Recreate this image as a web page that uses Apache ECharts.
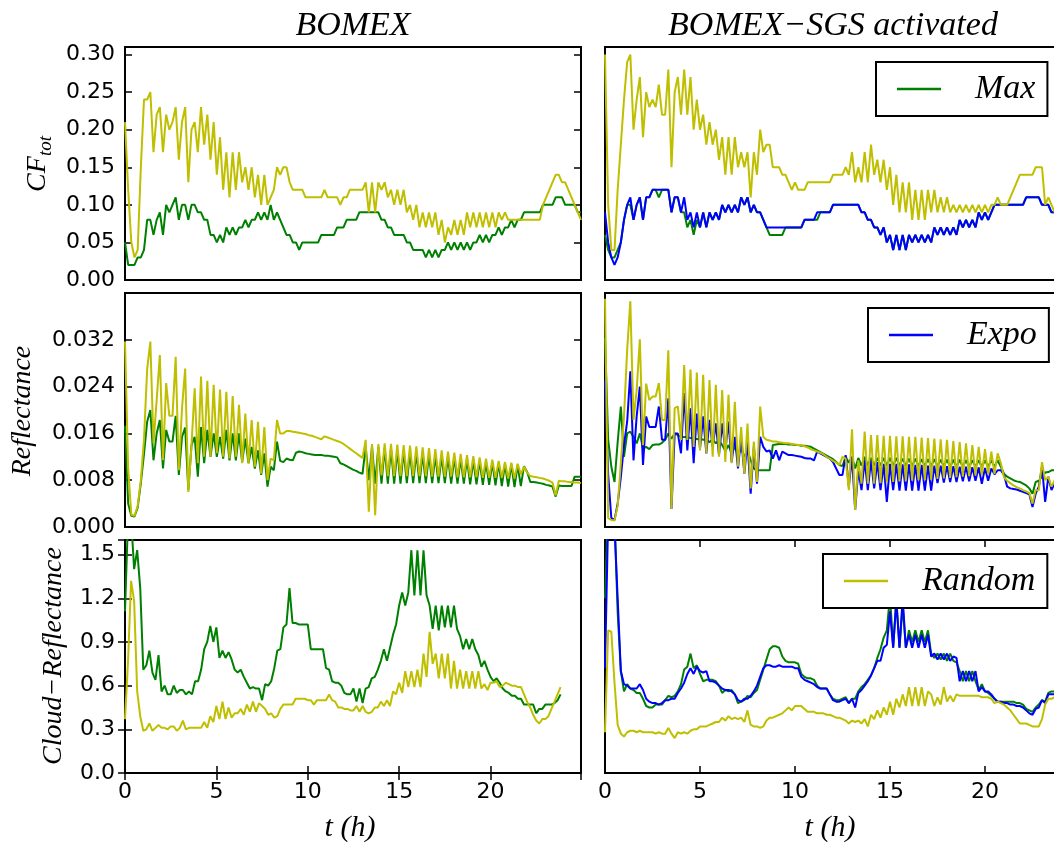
<!DOCTYPE html>
<html>
<head>
<meta charset="utf-8">
<title>BOMEX cloud fraction / reflectance</title>
<script src="https://cdn.jsdelivr.net/npm/echarts@6.0.0/dist/echarts.min.js"></script>
<style>
    html, body { margin: 0; padding: 0; background: #fff; overflow: hidden; }
    /* canvas a bit wider than the window: the right column runs past the edge, as in the original figure */
    #chart { width: 1070px; height: 848px; }
</style>
</head>
<body>
<div id="chart"></div>
<script>
// model output every 10 min
const STEP_H = 1 / 6

// ---- total cloud fraction ----
const cfMaxBomex = [
    0.05,0.02,0.02,0.02,0.03,0.03,0.04,0.08,0.08,0.06,
    0.08,0.09,0.06,0.10,0.09,0.10,0.11,0.08,0.10,0.10,
    0.08,0.10,0.10,0.09,0.09,0.08,0.08,0.06,0.06,0.05,
    0.06,0.05,0.07,0.06,0.07,0.06,0.07,0.07,0.08,0.07,
    0.08,0.08,0.09,0.08,0.09,0.08,0.10,0.08,0.09,0.08,
    0.07,0.06,0.06,0.05,0.05,0.04,0.05,0.05,0.05,0.05,
    0.05,0.05,0.06,0.06,0.06,0.06,0.06,0.07,0.07,0.07,
    0.08,0.08,0.08,0.08,0.09,0.09,0.09,0.09,0.09,0.09,
    0.09,0.08,0.08,0.07,0.07,0.06,0.06,0.06,0.06,0.05,
    0.05,0.04,0.04,0.04,0.04,0.03,0.04,0.03,0.04,0.03,
    0.04,0.04,0.05,0.04,0.05,0.04,0.05,0.04,0.05,0.04,
    0.05,0.05,0.06,0.05,0.06,0.05,0.06,0.06,0.07,0.06,
    0.07,0.07,0.08,0.07,0.08,0.08,0.09,0.09,0.09,0.09,
    0.09,0.09,0.10,0.10,0.10,0.10,0.11,0.11,0.11,0.10,
    0.10,0.10,0.10,0.09,0.09
]
const cfRandBomex = [
    0.21,0.12,0.05,0.03,0.04,0.15,0.24,0.24,0.25,0.17,
    0.22,0.23,0.17,0.22,0.20,0.21,0.23,0.16,0.21,0.23,
    0.13,0.20,0.21,0.17,0.23,0.18,0.22,0.16,0.21,0.14,
    0.19,0.12,0.17,0.11,0.17,0.12,0.17,0.13,0.15,0.12,
    0.15,0.11,0.14,0.10,0.14,0.10,0.11,0.12,0.15,0.14,
    0.15,0.15,0.13,0.12,0.12,0.12,0.12,0.11,0.11,0.11,
    0.11,0.11,0.11,0.12,0.11,0.11,0.11,0.11,0.10,0.11,
    0.11,0.12,0.12,0.12,0.12,0.12,0.13,0.09,0.13,0.09,
    0.13,0.12,0.13,0.11,0.12,0.10,0.12,0.10,0.12,0.09,
    0.10,0.08,0.10,0.07,0.09,0.07,0.09,0.07,0.09,0.06,
    0.08,0.05,0.07,0.06,0.08,0.06,0.08,0.06,0.09,0.07,
    0.09,0.07,0.09,0.07,0.09,0.07,0.09,0.07,0.09,0.08,
    0.09,0.08,0.08,0.08,0.08,0.08,0.08,0.08,0.08,0.08,
    0.08,0.08,0.10,0.11,0.12,0.13,0.14,0.14,0.13,0.13,
    0.12,0.11,0.10,0.09,0.08
]
const cfMaxSgs = [
    0.06,0.04,0.03,0.03,0.04,0.05,0.08,0.10,0.10,0.08,
    0.10,0.11,0.08,0.11,0.11,0.12,0.12,0.11,0.12,0.12,
    0.12,0.09,0.11,0.11,0.09,0.09,0.07,0.08,0.06,0.08,
    0.07,0.09,0.07,0.09,0.08,0.09,0.08,0.10,0.09,0.10,
    0.09,0.10,0.09,0.11,0.10,0.11,0.09,0.10,0.09,0.09,
    0.08,0.07,0.06,0.06,0.06,0.06,0.06,0.07,0.07,0.07,
    0.07,0.07,0.07,0.08,0.08,0.08,0.08,0.08,0.09,0.09,
    0.09,0.09,0.10,0.10,0.10,0.10,0.10,0.10,0.10,0.10,
    0.10,0.09,0.09,0.08,0.08,0.07,0.07,0.06,0.07,0.05,
    0.06,0.04,0.06,0.04,0.06,0.04,0.06,0.05,0.06,0.05,
    0.06,0.05,0.06,0.05,0.07,0.06,0.07,0.06,0.07,0.06,
    0.07,0.06,0.08,0.07,0.08,0.07,0.08,0.07,0.09,0.08,
    0.09,0.08,0.09,0.10,0.10,0.10,0.10,0.10,0.10,0.10,
    0.10,0.10,0.10,0.11,0.11,0.11,0.11,0.11,0.10,0.10,
    0.10,0.09,0.09,0.09,0.09
]
const cfExpoSgs = [
    0.09,0.05,0.03,0.02,0.03,0.05,0.08,0.10,0.11,0.08,
    0.10,0.11,0.08,0.11,0.11,0.12,0.12,0.12,0.12,0.12,
    0.12,0.09,0.11,0.11,0.09,0.11,0.08,0.09,0.07,0.09,
    0.07,0.09,0.07,0.09,0.08,0.09,0.08,0.10,0.09,0.10,
    0.09,0.10,0.09,0.11,0.10,0.11,0.09,0.10,0.09,0.09,
    0.08,0.07,0.07,0.07,0.07,0.07,0.07,0.07,0.07,0.07,
    0.07,0.07,0.07,0.08,0.08,0.08,0.08,0.09,0.09,0.09,
    0.09,0.09,0.10,0.10,0.10,0.10,0.10,0.10,0.10,0.10,
    0.10,0.09,0.09,0.08,0.08,0.07,0.07,0.06,0.07,0.05,
    0.06,0.04,0.06,0.04,0.06,0.04,0.06,0.05,0.06,0.05,
    0.06,0.05,0.06,0.05,0.07,0.06,0.07,0.06,0.07,0.06,
    0.07,0.06,0.08,0.07,0.08,0.07,0.08,0.07,0.09,0.08,
    0.09,0.08,0.09,0.10,0.10,0.10,0.10,0.10,0.10,0.10,
    0.10,0.10,0.10,0.11,0.11,0.11,0.11,0.11,0.10,0.10,
    0.10,0.09,0.09,0.09,0.09
]
const cfRandSgs = [
    0.30,0.10,0.04,0.04,0.12,0.18,0.24,0.29,0.30,0.20,
    0.24,0.27,0.19,0.25,0.23,0.24,0.23,0.26,0.22,0.22,
    0.28,0.15,0.25,0.27,0.22,0.28,0.22,0.27,0.20,0.24,
    0.20,0.22,0.18,0.21,0.18,0.20,0.16,0.19,0.14,0.19,
    0.14,0.19,0.15,0.17,0.15,0.17,0.11,0.17,0.14,0.20,
    0.17,0.18,0.18,0.15,0.15,0.15,0.14,0.14,0.13,0.12,
    0.13,0.12,0.12,0.12,0.13,0.13,0.13,0.13,0.13,0.13,
    0.13,0.13,0.14,0.14,0.14,0.14,0.15,0.14,0.17,0.13,
    0.15,0.13,0.17,0.13,0.18,0.14,0.16,0.13,0.16,0.12,
    0.15,0.10,0.14,0.09,0.13,0.09,0.13,0.08,0.12,0.08,
    0.12,0.08,0.12,0.09,0.12,0.09,0.11,0.09,0.11,0.09,
    0.10,0.09,0.10,0.09,0.10,0.09,0.10,0.09,0.10,0.09,
    0.10,0.09,0.10,0.10,0.11,0.10,0.10,0.10,0.11,0.12,
    0.13,0.14,0.14,0.14,0.14,0.14,0.15,0.15,0.15,0.10,
    0.11,0.10,0.09,0.09,0.09
]

// ---- reflectance ----
const refMaxBomex = [
    0.0173,0.0040,0.0019,0.0018,0.0033,0.0075,0.0125,0.0180,0.0200,0.0114,
    0.0160,0.0183,0.0100,0.0166,0.0146,0.0146,0.0190,0.0089,0.0154,0.0170,
    0.0063,0.0140,0.0154,0.0086,0.0171,0.0109,0.0166,0.0120,0.0160,0.0120,
    0.0154,0.0117,0.0166,0.0114,0.0160,0.0114,0.0160,0.0111,0.0151,0.0109,
    0.0137,0.0100,0.0131,0.0089,0.0126,0.0069,0.0103,0.0097,0.0146,0.0113,
    0.0111,0.0117,0.0115,0.0114,0.0127,0.0129,0.0128,0.0126,0.0125,0.0124,
    0.0123,0.0123,0.0123,0.0122,0.0122,0.0121,0.0120,0.0119,0.0109,0.0107,
    0.0104,0.0101,0.0098,0.0096,0.0093,0.0091,0.0137,0.0080,0.0138,0.0074,
    0.0137,0.0074,0.0135,0.0074,0.0133,0.0074,0.0131,0.0074,0.0130,0.0075,
    0.0128,0.0075,0.0127,0.0075,0.0125,0.0075,0.0124,0.0075,0.0122,0.0075,
    0.0121,0.0075,0.0120,0.0074,0.0119,0.0074,0.0117,0.0074,0.0116,0.0073,
    0.0114,0.0073,0.0113,0.0072,0.0111,0.0072,0.0110,0.0071,0.0109,0.0070,
    0.0108,0.0069,0.0107,0.0068,0.0106,0.0070,0.0104,0.0094,0.0077,0.0077,
    0.0076,0.0075,0.0074,0.0072,0.0071,0.0069,0.0052,0.0071,0.0070,0.0070,
    0.0070,0.0070,0.0086,0.0086,0.0086
]
const refRandBomex = [
    0.0317,0.0100,0.0021,0.0019,0.0036,0.0080,0.0150,0.0270,0.0317,0.0143,
    0.0217,0.0294,0.0114,0.0246,0.0190,0.0190,0.0291,0.0097,0.0203,0.0271,
    0.0060,0.0140,0.0237,0.0109,0.0257,0.0120,0.0250,0.0120,0.0243,0.0126,
    0.0235,0.0120,0.0231,0.0117,0.0224,0.0120,0.0209,0.0109,0.0194,0.0109,
    0.0183,0.0103,0.0180,0.0091,0.0171,0.0080,0.0117,0.0114,0.0183,0.0160,
    0.0160,0.0164,0.0164,0.0163,0.0162,0.0161,0.0160,0.0159,0.0157,0.0156,
    0.0154,0.0152,0.0150,0.0155,0.0153,0.0151,0.0149,0.0147,0.0145,0.0142,
    0.0138,0.0134,0.0130,0.0126,0.0122,0.0118,0.0149,0.0026,0.0142,0.0020,
    0.0142,0.0088,0.0143,0.0087,0.0142,0.0087,0.0141,0.0087,0.0140,0.0087,
    0.0139,0.0087,0.0138,0.0087,0.0136,0.0087,0.0135,0.0086,0.0133,0.0086,
    0.0131,0.0086,0.0129,0.0086,0.0127,0.0085,0.0125,0.0085,0.0123,0.0085,
    0.0121,0.0085,0.0119,0.0084,0.0117,0.0084,0.0115,0.0084,0.0113,0.0084,
    0.0111,0.0083,0.0110,0.0083,0.0108,0.0090,0.0103,0.0093,0.0087,0.0086,
    0.0085,0.0084,0.0083,0.0081,0.0079,0.0076,0.0054,0.0079,0.0078,0.0078,
    0.0077,0.0077,0.0076,0.0076,0.0075
]
const refMaxSgs = [
    0.0323,0.0150,0.0103,0.0077,0.0145,0.0206,0.0120,0.0160,0.0163,0.0154,
    0.0143,0.0160,0.0134,0.0137,0.0133,0.0140,0.0141,0.0141,0.0144,0.0149,
    0.0160,0.0151,0.0160,0.0157,0.0154,0.0154,0.0154,0.0152,0.0153,0.0150,
    0.0152,0.0149,0.0150,0.0145,0.0150,0.0143,0.0148,0.0140,0.0130,0.0140,
    0.0126,0.0137,0.0123,0.0134,0.0120,0.0131,0.0114,0.0100,0.0097,0.0097,
    0.0097,0.0097,0.0097,0.0140,0.0141,0.0142,0.0142,0.0142,0.0141,0.0141,
    0.0140,0.0140,0.0139,0.0139,0.0138,0.0137,0.0134,0.0131,0.0128,0.0125,
    0.0122,0.0119,0.0116,0.0111,0.0106,0.0104,0.0120,0.0110,0.0120,0.0100,
    0.0118,0.0105,0.0120,0.0105,0.0118,0.0105,0.0118,0.0105,0.0118,0.0105,
    0.0118,0.0105,0.0118,0.0105,0.0117,0.0105,0.0117,0.0104,0.0117,0.0104,
    0.0116,0.0104,0.0116,0.0104,0.0116,0.0104,0.0115,0.0104,0.0115,0.0103,
    0.0115,0.0103,0.0115,0.0103,0.0114,0.0103,0.0114,0.0103,0.0114,0.0103,
    0.0114,0.0103,0.0114,0.0103,0.0114,0.0103,0.0091,0.0086,0.0083,0.0080,
    0.0078,0.0077,0.0074,0.0071,0.0066,0.0057,0.0077,0.0079,0.0086,0.0093,
    0.0094,0.0097,0.0097,0.0098,0.0098
]
const refExpoSgs = [
    0.0251,0.0090,0.0015,0.0012,0.0040,0.0085,0.0140,0.0180,0.0266,0.0114,
    0.0189,0.0240,0.0106,0.0189,0.0171,0.0171,0.0171,0.0206,0.0149,0.0149,
    0.0220,0.0031,0.0160,0.0160,0.0126,0.0229,0.0131,0.0203,0.0109,0.0194,
    0.0134,0.0189,0.0126,0.0183,0.0137,0.0177,0.0123,0.0177,0.0131,0.0180,
    0.0111,0.0154,0.0100,0.0154,0.0091,0.0146,0.0057,0.0137,0.0074,0.0154,
    0.0137,0.0129,0.0131,0.0117,0.0131,0.0114,0.0129,0.0126,0.0123,0.0123,
    0.0122,0.0121,0.0120,0.0118,0.0117,0.0117,0.0114,0.0129,0.0126,0.0123,
    0.0120,0.0117,0.0111,0.0100,0.0089,0.0089,0.0123,0.0069,0.0120,0.0029,
    0.0097,0.0063,0.0114,0.0063,0.0114,0.0066,0.0111,0.0063,0.0108,0.0043,
    0.0108,0.0063,0.0108,0.0062,0.0107,0.0062,0.0107,0.0062,0.0106,0.0062,
    0.0106,0.0062,0.0105,0.0062,0.0105,0.0075,0.0105,0.0076,0.0104,0.0077,
    0.0104,0.0077,0.0103,0.0078,0.0103,0.0078,0.0102,0.0079,0.0102,0.0074,
    0.0101,0.0079,0.0100,0.0090,0.0097,0.0097,0.0089,0.0069,0.0066,0.0065,
    0.0064,0.0062,0.0060,0.0058,0.0056,0.0034,0.0057,0.0069,0.0103,0.0043,
    0.0086,0.0063,0.0075,0.0078,0.0078
]
const refRandSgs = [
    0.0390,0.0015,0.0012,0.0011,0.0036,0.0109,0.0189,0.0303,0.0386,0.0183,
    0.0234,0.0321,0.0140,0.0245,0.0217,0.0223,0.0223,0.0246,0.0183,0.0183,
    0.0302,0.0031,0.0203,0.0206,0.0149,0.0277,0.0149,0.0269,0.0137,0.0264,
    0.0131,0.0260,0.0126,0.0251,0.0120,0.0243,0.0120,0.0234,0.0111,0.0226,
    0.0109,0.0214,0.0103,0.0171,0.0091,0.0177,0.0066,0.0146,0.0077,0.0206,
    0.0154,0.0149,0.0148,0.0146,0.0146,0.0145,0.0144,0.0143,0.0143,0.0142,
    0.0141,0.0140,0.0140,0.0138,0.0136,0.0133,0.0131,0.0129,0.0127,0.0124,
    0.0120,0.0117,0.0113,0.0110,0.0106,0.0120,0.0117,0.0063,0.0167,0.0029,
    0.0114,0.0074,0.0163,0.0074,0.0157,0.0074,0.0157,0.0075,0.0156,0.0076,
    0.0156,0.0077,0.0155,0.0078,0.0155,0.0078,0.0154,0.0079,0.0154,0.0080,
    0.0153,0.0080,0.0152,0.0081,0.0151,0.0082,0.0150,0.0083,0.0149,0.0084,
    0.0147,0.0085,0.0145,0.0086,0.0143,0.0087,0.0140,0.0088,0.0137,0.0089,
    0.0133,0.0090,0.0129,0.0091,0.0126,0.0109,0.0085,0.0079,0.0075,0.0071,
    0.0068,0.0066,0.0063,0.0061,0.0058,0.0040,0.0063,0.0063,0.0111,0.0080,
    0.0086,0.0069,0.0080,0.0082,0.0082
]

// ---- cloud reflectance ----
const crMaxBomex = [
    1.11,1.75,1.75,1.40,1.53,1.27,0.71,0.74,0.84,0.69,
    0.64,0.81,0.56,0.60,0.54,0.54,0.60,0.55,0.57,0.57,
    0.54,0.56,0.54,0.63,0.63,0.71,0.85,0.90,1.01,0.90,
    1.00,0.79,0.84,0.79,0.83,0.78,0.71,0.69,0.71,0.66,
    0.62,0.58,0.59,0.58,0.58,0.50,0.61,0.60,0.63,0.72,
    0.84,0.85,1.00,1.02,1.27,1.03,1.03,1.02,1.02,1.02,
    1.02,0.85,0.85,0.85,0.85,0.85,0.72,0.71,0.63,0.62,
    0.62,0.60,0.55,0.54,0.54,0.58,0.49,0.58,0.48,0.58,
    0.59,0.65,0.66,0.71,0.77,0.85,0.77,0.86,0.95,1.02,
    1.15,1.24,1.15,1.24,1.53,1.22,1.53,1.22,1.53,1.22,
    1.15,0.99,1.15,0.98,1.15,1.00,1.15,1.00,1.15,0.99,
    0.94,0.85,0.92,0.85,0.92,0.85,0.81,0.73,0.77,0.71,
    0.66,0.63,0.65,0.62,0.58,0.56,0.55,0.53,0.53,0.51,
    0.51,0.47,0.47,0.47,0.47,0.41,0.44,0.44,0.47,0.47,
    0.47,0.48,0.50,0.54
]
const crRandBomex = [
    0.37,0.77,1.32,1.18,0.56,0.39,0.29,0.30,0.34,0.29,
    0.31,0.33,0.31,0.31,0.30,0.32,0.32,0.29,0.31,0.36,
    0.30,0.31,0.31,0.31,0.31,0.31,0.35,0.31,0.39,0.35,
    0.46,0.37,0.49,0.37,0.45,0.38,0.41,0.41,0.44,0.40,
    0.47,0.42,0.49,0.42,0.48,0.46,0.44,0.40,0.41,0.38,
    0.39,0.44,0.47,0.47,0.47,0.47,0.51,0.51,0.51,0.51,
    0.50,0.50,0.47,0.50,0.50,0.50,0.50,0.54,0.50,0.49,
    0.45,0.45,0.44,0.44,0.43,0.43,0.46,0.42,0.46,0.42,
    0.41,0.42,0.45,0.45,0.49,0.46,0.50,0.46,0.56,0.54,
    0.62,0.55,0.70,0.59,0.70,0.59,0.71,0.59,0.82,0.66,
    0.97,0.75,0.82,0.65,0.82,0.65,0.82,0.58,0.77,0.58,
    0.71,0.58,0.70,0.58,0.70,0.58,0.70,0.58,0.61,0.57,
    0.62,0.62,0.63,0.59,0.60,0.62,0.61,0.60,0.60,0.59,
    0.59,0.54,0.49,0.45,0.40,0.36,0.34,0.37,0.37,0.39,
    0.44,0.49,0.54,0.59
]
const crMaxSgs = [
    1.20,1.85,1.90,1.75,1.10,0.70,0.56,0.61,0.58,0.57,
    0.55,0.55,0.51,0.46,0.45,0.45,0.47,0.47,0.47,0.50,
    0.53,0.52,0.53,0.56,0.61,0.71,0.73,0.82,0.72,0.74,
    0.68,0.63,0.64,0.64,0.64,0.63,0.60,0.55,0.57,0.56,
    0.57,0.54,0.48,0.49,0.50,0.53,0.52,0.55,0.57,0.64,
    0.71,0.78,0.85,0.87,0.87,0.86,0.80,0.77,0.76,0.76,
    0.76,0.75,0.68,0.66,0.65,0.65,0.64,0.60,0.58,0.58,
    0.58,0.54,0.51,0.50,0.50,0.51,0.52,0.48,0.51,0.51,
    0.56,0.59,0.61,0.64,0.67,0.72,0.79,0.85,0.93,0.98,
    1.22,0.86,1.20,0.86,1.15,0.86,0.98,0.90,0.98,0.90,
    0.98,0.90,0.98,0.82,0.79,0.82,0.78,0.82,0.77,0.82,
    0.77,0.76,0.70,0.63,0.70,0.63,0.70,0.63,0.57,0.61,
    0.56,0.55,0.53,0.51,0.49,0.49,0.49,0.49,0.49,0.49,
    0.48,0.48,0.47,0.44,0.43,0.42,0.45,0.47,0.50,0.49,
    0.55,0.56,0.56,0.56,0.56
]
const crExpoSgs = [
    0.72,1.75,1.90,1.70,1.20,0.70,0.61,0.60,0.58,0.58,
    0.58,0.61,0.57,0.51,0.49,0.48,0.48,0.47,0.48,0.50,
    0.50,0.51,0.51,0.55,0.58,0.62,0.68,0.72,0.68,0.73,
    0.70,0.69,0.70,0.63,0.63,0.62,0.60,0.58,0.57,0.57,
    0.56,0.54,0.50,0.49,0.51,0.51,0.53,0.56,0.60,0.66,
    0.72,0.74,0.74,0.73,0.73,0.74,0.73,0.73,0.73,0.73,
    0.72,0.72,0.66,0.64,0.63,0.62,0.61,0.59,0.58,0.58,
    0.58,0.54,0.50,0.49,0.49,0.50,0.51,0.48,0.51,0.45,
    0.55,0.57,0.60,0.63,0.67,0.72,0.77,0.77,0.86,0.88,
    1.11,0.86,1.18,0.86,1.20,0.86,0.95,0.86,0.95,0.86,
    0.95,0.86,0.95,0.80,0.82,0.78,0.82,0.78,0.82,0.77,
    0.80,0.79,0.63,0.70,0.63,0.70,0.63,0.70,0.56,0.59,
    0.56,0.56,0.54,0.51,0.49,0.49,0.48,0.48,0.47,0.47,
    0.46,0.46,0.45,0.43,0.41,0.40,0.44,0.45,0.50,0.48,
    0.54,0.54,0.54,0.54,0.54
]
const crRandSgs = [
    0.28,0.98,0.97,0.62,0.33,0.27,0.25,0.28,0.29,0.29,
    0.28,0.29,0.28,0.28,0.28,0.28,0.27,0.28,0.27,0.27,
    0.31,0.27,0.24,0.28,0.27,0.28,0.27,0.29,0.30,0.30,
    0.32,0.32,0.32,0.33,0.34,0.35,0.35,0.38,0.36,0.39,
    0.37,0.38,0.37,0.38,0.35,0.43,0.33,0.32,0.32,0.31,
    0.32,0.36,0.38,0.38,0.39,0.40,0.41,0.43,0.45,0.43,
    0.46,0.46,0.46,0.44,0.42,0.42,0.42,0.41,0.41,0.41,
    0.40,0.40,0.39,0.38,0.38,0.37,0.36,0.34,0.36,0.35,
    0.36,0.34,0.37,0.32,0.40,0.37,0.43,0.38,0.45,0.40,
    0.49,0.40,0.51,0.45,0.54,0.46,0.59,0.46,0.59,0.46,
    0.59,0.46,0.56,0.54,0.46,0.52,0.47,0.59,0.49,0.53,
    0.49,0.54,0.53,0.53,0.53,0.53,0.53,0.53,0.53,0.52,
    0.52,0.52,0.51,0.48,0.49,0.48,0.47,0.45,0.43,0.40,
    0.37,0.34,0.34,0.34,0.33,0.32,0.32,0.32,0.37,0.47,
    0.51,0.51,0.52,0.52,0.52
]

const COLORS = { Max: '#008000', Expo: '#0000ff', Random: '#bfbf00' }

// one entry per panel, same order as the grids below
const panels = [
    [['Max', cfMaxBomex], ['Random', cfRandBomex]],
    [['Max', cfMaxSgs], ['Expo', cfExpoSgs], ['Random', cfRandSgs]],
    [['Max', refMaxBomex], ['Random', refRandBomex]],
    [['Max', refMaxSgs], ['Expo', refExpoSgs], ['Random', refRandSgs]],
    [['Max', crMaxBomex], ['Random', crRandBomex]],
    [['Max', crMaxSgs], ['Expo', crExpoSgs], ['Random', crRandSgs]],
]

const rowsY = [
    { max: 0.31, interval: 0.05, digits: 2, hideAbove: 0.301 },
    { max: 0.04, interval: 0.008, digits: 3, hideAbove: 0.035 },
    { max: 1.6, interval: 0.3, digits: 1, hideAbove: 1.55 },
]

const FRAME = '#000'
const tickStyle = { show: true, inside: true, length: 7, lineStyle: { color: FRAME, width: 1.5 } }
const tickFont = { fontFamily: 'DejaVu Sans', fontSize: 22, color: '#000' }
const serif = '"Liberation Serif", "DejaVu Serif", serif'

const grids = [
    { left: 125, top: 47, width: 456, height: 233 },
    { left: 605, top: 47, width: 456, height: 233 },
    { left: 125, top: 293, width: 456, height: 234 },
    { left: 605, top: 293, width: 456, height: 234 },
    { left: 125, top: 540, width: 456, height: 233 },
    { left: 605, top: 540, width: 456, height: 233 },
].map(g => ({ ...g, show: true, borderColor: FRAME, borderWidth: 2, backgroundColor: '#fff' }))

const onStep = (step, digits, hideAbove) => v => {
    if (v > hideAbove) return ''
    return Math.abs(v / step - Math.round(v / step)) < 1e-6 ? v.toFixed(digits) : ''
}

const xAxis = []
const yAxis = []
for (let g = 0; g < 6; g++) {
    const bottomRow = g >= 4
    const leftCol = g % 2 === 0
    xAxis.push({
        type: 'value', gridIndex: g, min: 0, max: g === 4 ? 24.95 : 24, interval: 5,
        axisLine: { show: false }, splitLine: { show: false },
        axisTick: bottomRow ? tickStyle : { show: false },
        axisLabel: bottomRow ? { ...tickFont, margin: 8, formatter: onStep(5, 0, 21) } : { show: false },
    })
    const r = rowsY[Math.floor(g / 2)]
    yAxis.push({
        type: 'value', gridIndex: g, min: 0, max: r.max, interval: r.interval,
        axisLine: { show: false }, splitLine: { show: false },
        axisTick: leftCol ? tickStyle : { show: false },
        axisLabel: leftCol ? { ...tickFont, margin: 10, formatter: onStep(r.interval, r.digits, r.hideAbove) } : { show: false },
    })
}
// mirrored ticks: top edge of the bottom row, right edge of the left column
for (const g of [4, 5]) {
    xAxis.push({
        type: 'value', gridIndex: g, position: 'top', min: 0, max: g === 4 ? 24.95 : 24, interval: 5,
        axisLine: { show: false }, splitLine: { show: false }, axisTick: tickStyle, axisLabel: { show: false },
    })
}
for (const g of [0, 2, 4]) {
    const r = rowsY[g / 2]
    yAxis.push({
        type: 'value', gridIndex: g, position: 'right', min: 0, max: r.max, interval: r.interval,
        axisLine: { show: false }, splitLine: { show: false }, axisTick: tickStyle, axisLabel: { show: false },
    })
}

const hours = Array.from({ length: 145 }, (_, i) => i * STEP_H)
const series = []
panels.forEach((lines, g) => {
    lines.forEach(([name, vals]) => {
        series.push({
            name, type: 'line', xAxisIndex: g, yAxisIndex: g,
            data: vals.map((v, i) => [hours[i], v]),
            showSymbol: false, clip: true, color: COLORS[name],
            lineStyle: { color: COLORS[name], width: 2 },
            itemStyle: { color: COLORS[name] },
        })
    })
})

const legendBase = {
    orient: 'horizontal', icon: 'rect', itemWidth: 44, itemHeight: 2.5, selectedMode: false,
    borderColor: FRAME, borderWidth: 2, borderRadius: 0, backgroundColor: '#fff',
    padding: [10, 12, 10, 21],
    textStyle: { fontFamily: serif, fontStyle: 'italic', fontSize: 34, lineHeight: 34, color: '#000', padding: [0, 0, 0, 29] },
}

const txt = (x, y, text, size, extra) => ({
    type: 'text', x, y, ...extra,
    style: { text, font: 'italic ' + size + 'px ' + serif, fill: '#000',
        textAlign: 'center', textVerticalAlign: 'middle', align: 'center', verticalAlign: 'middle' },
})

const chart = echarts.init(document.getElementById('chart'), null, { renderer: 'canvas' })
chart.setOption({
    animation: false,
    backgroundColor: '#fff',
    grid: grids,
    xAxis,
    yAxis,
    series,
    legend: [
        { ...legendBase, data: ['Max'], left: 876, top: 62 },
        { ...legendBase, data: ['Expo'], left: 868, top: 308 },
        { ...legendBase, data: ['Random'], left: 823, top: 554 },
    ],
    graphic: [
        txt(353, 26, 'BOMEX', 34),
        txt(833, 26, 'BOMEX\u2212SGS activated', 34),
        txt(350, 828, 't (h)', 30),
        txt(830, 828, 't (h)', 30),
        txt(23, 411, 'Reflectance', 28, { rotation: Math.PI / 2 }),
        txt(54, 656, 'Cloud\u2212Reflectance', 28, { rotation: Math.PI / 2 }),
        {
            type: 'group', x: 38, y: 164, rotation: Math.PI / 2,
            children: [
                { type: 'text', x: -28, y: 0, style: { text: 'CF', font: 'italic 28px ' + serif, fill: '#000',
                    textAlign: 'left', textVerticalAlign: 'middle', align: 'left', verticalAlign: 'middle' } },
                { type: 'text', x: 8, y: 8, style: { text: 'tot', font: 'italic 19px ' + serif, fill: '#000',
                    textAlign: 'left', textVerticalAlign: 'middle', align: 'left', verticalAlign: 'middle' } },
            ],
        },
    ],
})
</script>
</body>
</html>
